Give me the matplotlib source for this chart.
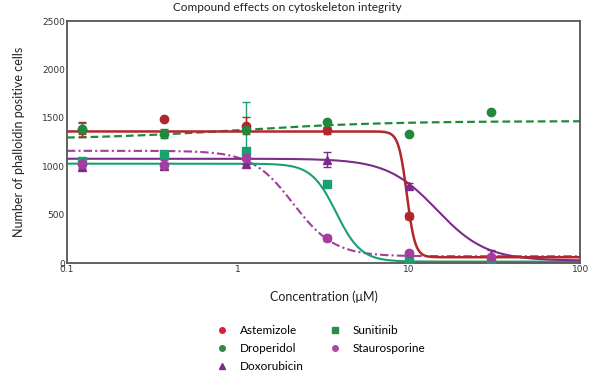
import numpy as np
import matplotlib
matplotlib.use("Agg")
import matplotlib.pyplot as plt
from matplotlib.lines import Line2D

# Concentrations (µM)
conc = [0.123, 0.37, 1.11, 3.33, 10, 30]

# Measured points
astemizole = [1380, 1490, 1420, 1370, 487]
astemizole_err = [80, 0, 85, 40, 30]
droperidol = [1390, 1338, 1380, 1460, 1335, 1560]
droperidol_err = [60, 45, 0, 0, 0, 0]
doxorubicin = [995, 1000, 1025, 1068, 798, 88]
doxorubicin_err = [30, 30, 0, 75, 25, 45]
sunitinib = [1050, 1125, 1160, 816, 28, 12]
sunitinib_err_lo = [40, 20, 0, 0, 10, 10]
sunitinib_err_hi = [40, 20, 505, 0, 10, 10]
staurosporine = [1025, 1015, 1090, 262, 105, 66]
staurosporine_err = [45, 45, 0, 30, 20, 15]

# Fitted 4-parameter logistic parameters: bottom, top, IC50 (µM), Hill slope
fit_astemizole = [60, 1360, 9.7, -18]
fit_droperidol = [1280, 1467, 1.0, 1.0]
fit_doxorubicin = [25, 1078, 14.5, -3.0]
fit_sunitinib = [15, 1027, 3.75, -6.0]
fit_staurosporine = [70, 1160, 2.1, -3.6]

names = ["Astemizole", "Droperidol", "Doxorubicin", "Sunitinib", "Staurosporine"]
colors = {"Astemizole": "#B3262E", "Droperidol": "#1F8A3C", "Doxorubicin": "#7D2B8B",
          "Sunitinib": "#18A06E", "Staurosporine": "#A33D9E"}
legend_colors = {"Astemizole": "#D8203A", "Droperidol": "#2E8B45", "Doxorubicin": "#7D2B8B",
                 "Sunitinib": "#2E8B45", "Staurosporine": "#B046A8"}


def logistic(x, p):
    bottom, top, ic50, hill = p
    return bottom + (top - bottom) / (1 + (x / ic50) ** (-hill))


fig = plt.figure(figsize=(5.95, 3.71), dpi=100)
ax = fig.add_axes([0.1126, 0.291, 0.8624, 0.652])

xs = np.logspace(-1, 2, 600)

ax.plot(xs, logistic(xs, fit_droperidol), color=colors["Droperidol"], lw=1.6, ls=(0, (3.5, 1.8)), zorder=2)
ax.plot(xs, logistic(xs, fit_staurosporine), color=colors["Staurosporine"], lw=1.5, ls=(0, (4, 1.5, 1, 1.5)), zorder=2)
ax.plot(xs, logistic(xs, fit_sunitinib), color=colors["Sunitinib"], lw=1.5, zorder=2)
ax.plot(xs, logistic(xs, fit_doxorubicin), color=colors["Doxorubicin"], lw=1.5, zorder=2)
ax.plot(xs, logistic(xs, fit_astemizole), color=colors["Astemizole"], lw=1.8, zorder=3)

ekw = dict(ls="none", capsize=3, elinewidth=1.0, capthick=1.0, zorder=4)
ax.errorbar(conc[:len(sunitinib)], sunitinib, yerr=[sunitinib_err_lo, sunitinib_err_hi],
            marker="s", ms=6, color=colors["Sunitinib"], **ekw)
ax.errorbar(conc, doxorubicin, yerr=doxorubicin_err, marker="^", ms=6, color=colors["Doxorubicin"], **ekw)
ax.errorbar(conc, staurosporine, yerr=staurosporine_err, marker="o", ms=6, color=colors["Staurosporine"], **ekw)
ax.errorbar(conc[:len(astemizole)], astemizole, yerr=astemizole_err, marker="o", ms=6,
            color=colors["Astemizole"], **ekw)
ax.errorbar(conc, droperidol, yerr=droperidol_err, marker="o", ms=6, color=colors["Droperidol"], **ekw)

ax.set_xscale("log")
ax.set_xlim(0.1, 100)
ax.set_ylim(0, 2500)
ax.set_xticks([0.1, 1, 10, 100])
ax.set_xticklabels(["0.1", "1", "10", "100"])
ax.set_yticks([0, 500, 1000, 1500, 2000, 2500])
ax.set_yticklabels(["0", "500", "1000", "1500", "2000", "2500"])
ax.minorticks_off()
ax.tick_params(axis="both", length=0, labelsize=6.5, colors="#333333", pad=1.5)
for s in ax.spines.values():
    s.set_color("#555555")
    s.set_linewidth(1.3)

fig.text(0.483, 0.981, "Compound effects on cytoskeleton integrity", fontsize=8.5, family="Lato",
         color="#222222", ha="center", va="center")
ax.set_xlabel("Concentration (\u03bcM)", fontsize=9, family="Lato", color="#222222", labelpad=12)
ax.set_ylabel("Number of phalloidin positive cells", fontsize=9, family="Lato", color="#222222",
              labelpad=12)

markers = {"Astemizole": "o", "Droperidol": "o", "Doxorubicin": "^", "Sunitinib": "s", "Staurosporine": "o"}
order = ["Astemizole", "Droperidol", "Doxorubicin", "Sunitinib", "Staurosporine"]
handles = [Line2D([], [], ls="none", marker=markers[n], color=legend_colors[n],
                  ms=4 if markers[n] != "^" else 5) for n in order]
fig.legend(handles, order, ncol=2, loc="upper left", bbox_to_anchor=(0.364, 0.124),
           frameon=False, prop={"family": "Lato", "size": 8.5}, handletextpad=1.0,
           columnspacing=2.1, labelspacing=0.58, borderaxespad=0, borderpad=0, handlelength=1.0)

fig.savefig("out.png", dpi=100, facecolor="white")
